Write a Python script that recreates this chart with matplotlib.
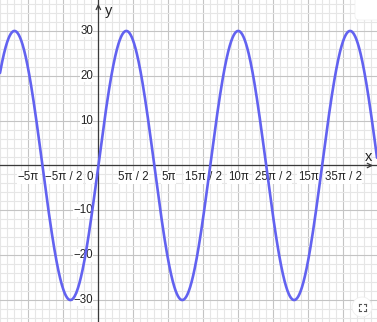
import numpy as np
import matplotlib
matplotlib.use("Agg")
import matplotlib.pyplot as plt
from matplotlib.patches import FancyBboxPatch, Circle
from matplotlib.lines import Line2D

# ---- data ----
amplitude = 30
angular_freq = 0.25          # y = 30 sin(x / 4)
x_min, x_max = -22.1, 62.6
y_min, y_max = -34.9, 36.9
x_tick_values = [-5*np.pi, -5*np.pi/2, 5*np.pi/2, 5*np.pi, 15*np.pi/2,
                 10*np.pi, 25*np.pi/2, 15*np.pi, 35*np.pi/2]
x_tick_labels = ["−5π", "−5π / 2", "5π / 2", "5π", "15π / 2",
                 "10π", "25π / 2", "15π", "35π / 2"]
y_tick_values = [-30, -20, -10, 10, 20, 30]
y_tick_labels = ["−30", "−20", "−10", "10", "20", "30"]

xs = np.linspace(x_min, x_max, 2000)
ys = amplitude * np.sin(angular_freq * xs)

plt.rcParams['font.family'] = ['Liberation Sans', 'DejaVu Sans']

fig = plt.figure(figsize=(3.77, 3.22), dpi=100)
ax = fig.add_axes([0, 0, 1, 1])

# grid
ax.set_xticks(np.arange(-3, 9) * 5*np.pi/2)
ax.set_xticks(np.arange(-15, 45) * np.pi/2, minor=True)
ax.set_yticks(np.arange(-40, 50, 10))
ax.set_yticks(np.arange(-40, 50, 2), minor=True)
ax.grid(which='minor', color='#e6e6e6', lw=0.8, zorder=0)
ax.grid(which='major', color='#c4c4c4', lw=0.8, zorder=0)
ax.tick_params(which='both', length=0, labelbottom=False, labelleft=False)
for s in ax.spines.values():
    s.set_visible(False)
ax.set_axisbelow(True)

# axes lines
ax.axhline(0, color='#3a3a3a', lw=0.9, zorder=2)
ax.axvline(0, color='#3a3a3a', lw=0.9, zorder=2)

# tick labels
for v, lab in zip(x_tick_values, x_tick_labels):
    ax.text(v, -1.3, lab, ha='center', va='top', fontsize=8.3, color='#222222',
            zorder=3, bbox=dict(facecolor='white', edgecolor='none', pad=0.3))
for v, lab in zip(y_tick_values, y_tick_labels):
    ax.text(-1.2, v, lab, ha='right', va='center', fontsize=8.3, color='#222222',
            zorder=3, bbox=dict(facecolor='white', edgecolor='none', pad=0.3))
ax.text(-1.2, -1.3, "0", ha='right', va='top', fontsize=8.3, color='#222222',
        zorder=3, bbox=dict(facecolor='white', edgecolor='none', pad=0.3))

# curve
ax.plot(xs, ys, color='#6262f0', lw=1.9, zorder=4, solid_capstyle='round')

ax.set_xlim(x_min, x_max)
ax.set_ylim(y_min, y_max)

# axis arrows & names
bt = ax.get_yaxis_transform()  # x axes, y data
ax.annotate('', xy=(0.997, 0), xytext=(0.96, 0), xycoords=bt, textcoords=bt,
            arrowprops=dict(arrowstyle='->', color='#3a3a3a', lw=0.9,
                            mutation_scale=8), zorder=2)
bt2 = ax.get_xaxis_transform()  # x data, y axes
ax.annotate('', xy=(0, 0.997), xytext=(0, 0.96), xycoords=bt2, textcoords=bt2,
            arrowprops=dict(arrowstyle='->', color='#3a3a3a', lw=0.9,
                            mutation_scale=8), zorder=2)
ax.text(0.978, 0.4, "x", transform=bt, ha='center', va='bottom', fontsize=10.5,
        color='#222222')
ax.text(1.4, 0.965, "y", transform=bt2, ha='left', va='center', fontsize=10.5,
        color='#222222')

# GeoGebra-like decorations
fig.patches.append(FancyBboxPatch((355/377, 1 - 20/322), 30/377, 30/322,
                                  boxstyle="round,pad=0,rounding_size=0.012",
                                  transform=fig.transFigure, facecolor='white',
                                  edgecolor='#eeeeee', lw=0.5, zorder=10))
cx, cy = 362/377, 1 - 307/322
fig.patches.append(Circle((362, 322 - 307), 10, transform=None,
                          facecolor='white', edgecolor='#eeeeee', lw=0.6,
                          zorder=10))
px = 1/377
py = 1/322
d = 3.5
for sx in (-1, 1):
    for sy in (-1, 1):
        x0, y0 = cx + sx*d*px, cy + sy*d*py
        fig.lines.append(Line2D([x0, x0 - sx*2*px], [y0, y0], transform=fig.transFigure,
                                color='#555555', lw=0.8, zorder=11))
        fig.lines.append(Line2D([x0, x0], [y0, y0 - sy*2*py], transform=fig.transFigure,
                                color='#555555', lw=0.8, zorder=11))

fig.savefig("out.png", dpi=100)
